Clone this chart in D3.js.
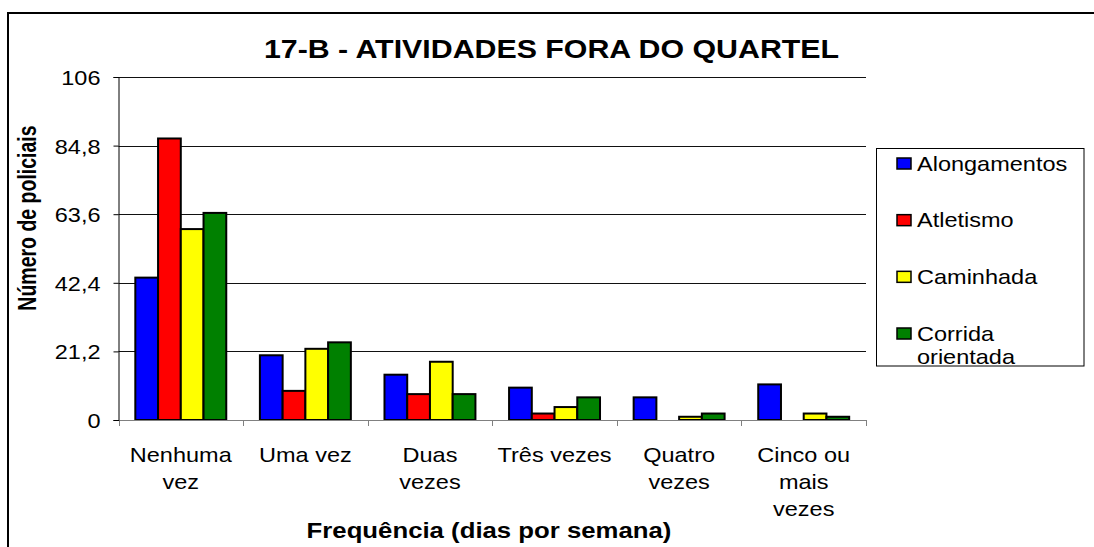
<!DOCTYPE html>
<html>
<head>
<meta charset="utf-8">
<script src="https://cdn.jsdelivr.net/npm/d3@7"></script>
<style>
  body { margin: 0; background: #fff; }
  text { font-family: "Liberation Sans", Arial, sans-serif; fill: #000; }
</style>
</head>
<body>
<svg width="1094" height="547"></svg>
<script>
var width = 1094,
    height = 547;

// data
var categories = ["Nenhuma vez", "Uma vez", "Duas vezes", "Três vezes", "Quatro vezes", "Cinco ou mais vezes"];
var categoryLines = [["Nenhuma", "vez"], ["Uma vez"], ["Duas", "vezes"], ["Três vezes"], ["Quatro", "vezes"], ["Cinco ou", "mais", "vezes"]];
var seriesNames = ["Alongamentos", "Atletismo", "Caminhada", "Corrida orientada"];
var legendLines = [["Alongamentos"], ["Atletismo"], ["Caminhada"], ["Corrida", "orientada"]];
var alongamentos = [44, 20, 14, 10, 7, 11];
var atletismo = [87, 9, 8, 2, 0, 0];
var caminhada = [59, 22, 18, 4, 1, 2];
var corrida = [64, 24, 8, 7, 2, 1];
var seriesColors = ["#0000ff", "#ff0000", "#ffff00", "#008000"];
var yTicks = [0, 21.2, 42.4, 63.6, 84.8, 106];

var seriesValues = [alongamentos, atletismo, caminhada, corrida];

var svg = d3.select("svg");

// plot area
var plotLeft = 118.5, plotRight = 866, plotTop = 77, plotBottom = 420;

var x = d3.scaleBand().domain(categories).range([plotLeft, plotRight]).padding(0);
var bw = x.bandwidth();
var xs = d3.scaleBand().domain(seriesNames).range([bw * 0.135, bw * 0.865]).padding(0);
var y = d3.scaleLinear().domain([0, 106]).range([plotBottom, plotTop]);

var ptBR = d3.formatLocale({decimal: ",", thousands: ".", grouping: [3], currency: ["R$", ""]});
var fmt = ptBR.format("~g");

// outer frame (runs past the right and bottom edges)
svg.append("rect")
   .attr("x", 8).attr("y", 13)
   .attr("width", 1200).attr("height", 600)
   .attr("fill", "none").attr("stroke", "#000").attr("stroke-width", 2);

// gridlines
svg.append("g").selectAll("line")
   .data(yTicks.filter(function(d) { return d > 0; }))
   .enter().append("line")
   .attr("x1", plotLeft).attr("x2", plotRight)
   .attr("y1", function(d) { return Math.round(y(d)) + 0.5; })
   .attr("y2", function(d) { return Math.round(y(d)) + 0.5; })
   .attr("stroke", "#111").attr("stroke-width", 1);

// bars
var rows = [];
categories.forEach(function(c, i) {
  seriesNames.forEach(function(s, j) {
    rows.push({cat: c, ser: s, value: seriesValues[j][i], color: seriesColors[j]});
  });
});

svg.append("g").attr("class", "bars")
   .selectAll("rect")
   .data(rows.filter(function(d) { return d.value > 0; }))
   .enter().append("rect")
   .attr("x", function(d) { return x(d.cat) + xs(d.ser); })
   .attr("width", xs.bandwidth())
   .attr("y", function(d) { return y(d.value); })
   .attr("height", function(d) { return y(0) - y(d.value); })
   .attr("fill", function(d) { return d.color; })
   .attr("stroke", "#000").attr("stroke-width", 2);

// x axis
svg.append("line")
   .attr("x1", plotLeft).attr("x2", plotRight)
   .attr("y1", plotBottom + 0.5).attr("y2", plotBottom + 0.5)
   .attr("stroke", "#808080").attr("stroke-width", 1);
svg.append("g").selectAll("line")
   .data(d3.range(categories.length + 1))
   .enter().append("line")
   .attr("x1", function(i) { return Math.round(plotLeft + i * bw) + 0.5; })
   .attr("x2", function(i) { return Math.round(plotLeft + i * bw) + 0.5; })
   .attr("y1", plotBottom).attr("y2", plotBottom + 6)
   .attr("stroke", "#808080");

// y axis
var yAxis = d3.axisLeft(y).tickValues(yTicks).tickSize(5).tickFormat(fmt);
var gy = svg.append("g")
   .attr("transform", "translate(" + plotLeft + ",0)")
   .call(yAxis);
gy.select(".domain").attr("stroke", "#000");
gy.selectAll(".tick line").attr("stroke", "#000");
gy.selectAll(".tick text")
   .attr("x", 0).attr("dy", "0.36em")
   .attr("transform", "translate(-18,0) scale(1.12,1)")
   .style("font-size", "21px")
   .style("font-family", "'Liberation Sans', Arial, sans-serif")
   .attr("fill", "#000");

// category labels
var catG = svg.append("g").selectAll("g")
   .data(categories)
   .enter().append("g")
   .attr("transform", function(d) { return "translate(" + (x(d) + bw / 2) + ",461.5) scale(1.12,1)"; });
catG.each(function(d, i) {
  d3.select(this).selectAll("text")
    .data(categoryLines[i])
    .enter().append("text")
    .attr("text-anchor", "middle")
    .attr("y", function(t, k) { return k * 27.5; })
    .style("font-size", "21px")
    .text(function(t) { return t; });
});

// title
svg.append("text")
   .attr("transform", "translate(551.5,58) scale(1.19,1)")
   .attr("text-anchor", "middle")
   .style("font-size", "25.5px").style("font-weight", "bold")
   .text("17-B - ATIVIDADES FORA DO QUARTEL");

// axis titles
svg.append("text")
   .attr("transform", "translate(489,538) scale(1.12,1)")
   .attr("text-anchor", "middle")
   .style("font-size", "23px").style("font-weight", "bold")
   .text("Frequência (dias por semana)");

svg.append("text")
   .attr("transform", "translate(36,218) rotate(-90) scale(1,1.3)")
   .attr("text-anchor", "middle")
   .style("font-size", "19.5px").style("font-weight", "bold")
   .text("Número de policiais");

// legend
var legend = svg.append("g");
legend.append("rect")
   .attr("x", 876.5).attr("y", 148.5)
   .attr("width", 207.5).attr("height", 217.5)
   .attr("fill", "#fff").attr("stroke", "#000").attr("stroke-width", 1);

var legendY = d3.scalePoint().domain(seriesNames).range([163.5, 333.5]);

var item = legend.selectAll(".item")
   .data(seriesNames)
   .enter().append("g")
   .attr("class", "item");
item.append("rect")
   .attr("x", 897).attr("width", 14).attr("height", 11)
   .attr("y", function(d) { return legendY(d) - 5.5; })
   .attr("fill", function(d, i) { return seriesColors[i]; })
   .attr("stroke", "#000").attr("stroke-width", 1.5);
item.each(function(d, i) {
  var g = d3.select(this).append("g")
    .attr("transform", "translate(917," + (legendY(d) + 7) + ") scale(1.12,1)");
  g.selectAll("text")
    .data(legendLines[i])
    .enter().append("text")
    .attr("y", function(t, k) { return k * 23.5; })
    .style("font-size", "21px")
    .text(function(t) { return t; });
});
</script>
</body>
</html>
